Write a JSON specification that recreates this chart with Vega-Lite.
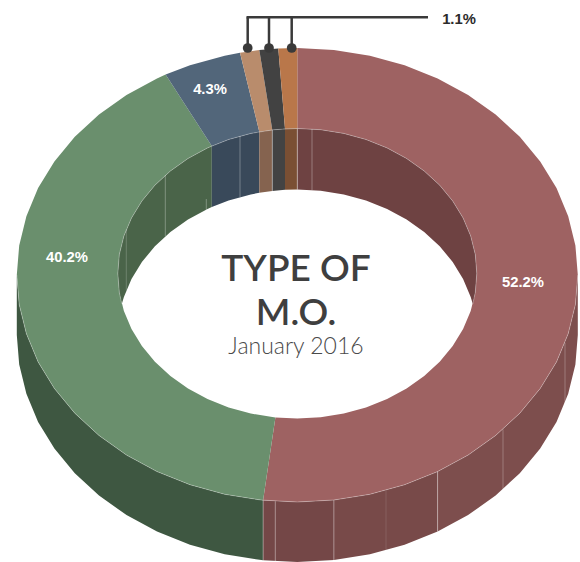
{"$schema":"https://vega.github.io/schema/vega-lite/v6.json","width":580,"height":562,"padding":0,"autosize":"none","background":"white","config":{"view":{"stroke":null}},
"datasets":{
"shapes":[
{"part":"rimRedA","x":-34.2,"y":-225.3},{"part":"rimRedA","x":0,"y":-227},{"part":"rimRedA","x":36.6,"y":-225},{"part":"rimRedA","x":36.6,"y":-285},{"part":"rimRedA","x":0,"y":-287},{"part":"rimRedA","x":-34.2,"y":-285.3},
{"part":"rimRedB","x":36.6,"y":-225},{"part":"rimRedB","x":72.6,"y":-219.3},{"part":"rimRedB","x":107.3,"y":-209.7},{"part":"rimRedB","x":140.3,"y":-196.6},{"part":"rimRedB","x":140.3,"y":-256.6},{"part":"rimRedB","x":107.3,"y":-269.7},{"part":"rimRedB","x":72.6,"y":-279.3},{"part":"rimRedB","x":36.6,"y":-285},
{"part":"rimRedC","x":140.3,"y":-196.6},{"part":"rimRedC","x":170.8,"y":-180.1},{"part":"rimRedC","x":198.3,"y":-160.5},{"part":"rimRedC","x":222.5,"y":-138.2},{"part":"rimRedC","x":242.9,"y":-113.5},{"part":"rimRedC","x":259.2,"y":-86.9},{"part":"rimRedC","x":270.9,"y":-58.7},{"part":"rimRedC","x":278.1,"y":-29.6},{"part":"rimRedC","x":280.5,"y":0},{"part":"rimRedC","x":280.5,"y":-60},{"part":"rimRedC","x":278.1,"y":-89.6},{"part":"rimRedC","x":270.9,"y":-118.7},{"part":"rimRedC","x":259.2,"y":-146.9},{"part":"rimRedC","x":242.9,"y":-173.5},{"part":"rimRedC","x":222.5,"y":-198.2},{"part":"rimRedC","x":198.3,"y":-220.5},{"part":"rimRedC","x":170.8,"y":-240.1},{"part":"rimRedC","x":140.3,"y":-256.6},
{"part":"rimGreen","x":-34.2,"y":-225.3},{"part":"rimGreen","x":-72.6,"y":-219.3},{"part":"rimGreen","x":-107.3,"y":-209.7},{"part":"rimGreen","x":-140.3,"y":-196.6},{"part":"rimGreen","x":-170.8,"y":-180.1},{"part":"rimGreen","x":-198.3,"y":-160.5},{"part":"rimGreen","x":-222.5,"y":-138.2},{"part":"rimGreen","x":-242.9,"y":-113.5},{"part":"rimGreen","x":-259.2,"y":-86.9},{"part":"rimGreen","x":-270.9,"y":-58.7},{"part":"rimGreen","x":-278.1,"y":-29.6},{"part":"rimGreen","x":-280.5,"y":0},{"part":"rimGreen","x":-280.5,"y":-60},{"part":"rimGreen","x":-278.1,"y":-89.6},{"part":"rimGreen","x":-270.9,"y":-118.7},{"part":"rimGreen","x":-259.2,"y":-146.9},{"part":"rimGreen","x":-242.9,"y":-173.5},{"part":"rimGreen","x":-222.5,"y":-198.2},{"part":"rimGreen","x":-198.3,"y":-220.5},{"part":"rimGreen","x":-170.8,"y":-240.1},{"part":"rimGreen","x":-140.3,"y":-256.6},{"part":"rimGreen","x":-107.3,"y":-269.7},{"part":"rimGreen","x":-72.6,"y":-279.3},{"part":"rimGreen","x":-34.2,"y":-285.3},
{"part":"topRed","x":0,"y":227},{"part":"topRed","x":36.6,"y":225},{"part":"topRed","x":72.6,"y":219.3},{"part":"topRed","x":107.3,"y":209.7},{"part":"topRed","x":140.3,"y":196.6},{"part":"topRed","x":170.8,"y":180.1},{"part":"topRed","x":198.3,"y":160.5},{"part":"topRed","x":222.5,"y":138.2},{"part":"topRed","x":242.9,"y":113.5},{"part":"topRed","x":259.2,"y":86.9},{"part":"topRed","x":270.9,"y":58.7},{"part":"topRed","x":278.1,"y":29.6},{"part":"topRed","x":280.5,"y":0},{"part":"topRed","x":278.1,"y":-29.6},{"part":"topRed","x":270.9,"y":-58.7},{"part":"topRed","x":259.2,"y":-86.9},{"part":"topRed","x":242.9,"y":-113.5},{"part":"topRed","x":222.5,"y":-138.2},{"part":"topRed","x":198.3,"y":-160.5},{"part":"topRed","x":170.8,"y":-180.1},{"part":"topRed","x":140.3,"y":-196.6},{"part":"topRed","x":107.3,"y":-209.7},{"part":"topRed","x":72.6,"y":-219.3},{"part":"topRed","x":36.6,"y":-225},{"part":"topRed","x":0,"y":-227},{"part":"topRed","x":-34.2,"y":-225.3},
{"part":"topRed","x":-21.9,"y":-142.4},{"part":"topRed","x":0,"y":-143.5},{"part":"topRed","x":23.4,"y":-142.3},{"part":"topRed","x":46.5,"y":-138.6},{"part":"topRed","x":68.7,"y":-132.5},{"part":"topRed","x":89.8,"y":-124.1},{"part":"topRed","x":109.3,"y":-113.5},{"part":"topRed","x":126.9,"y":-101},{"part":"topRed","x":142.4,"y":-86.8},{"part":"topRed","x":155.4,"y":-71},{"part":"topRed","x":165.8,"y":-54},{"part":"topRed","x":173.4,"y":-36},{"part":"topRed","x":178,"y":-17.4},{"part":"topRed","x":179.5,"y":1.5},{"part":"topRed","x":178,"y":20.4},{"part":"topRed","x":173.4,"y":39},{"part":"topRed","x":165.8,"y":57},{"part":"topRed","x":155.4,"y":74},{"part":"topRed","x":142.4,"y":89.8},{"part":"topRed","x":126.9,"y":104},{"part":"topRed","x":109.3,"y":116.5},{"part":"topRed","x":89.8,"y":127.1},{"part":"topRed","x":68.7,"y":135.5},{"part":"topRed","x":46.5,"y":141.6},{"part":"topRed","x":23.4,"y":145.3},{"part":"topRed","x":0,"y":146.5},
{"part":"topGreen","x":-34.2,"y":-225.3},{"part":"topGreen","x":-72.6,"y":-219.3},{"part":"topGreen","x":-107.3,"y":-209.7},{"part":"topGreen","x":-140.3,"y":-196.6},{"part":"topGreen","x":-170.8,"y":-180.1},{"part":"topGreen","x":-198.3,"y":-160.5},{"part":"topGreen","x":-222.5,"y":-138.2},{"part":"topGreen","x":-242.9,"y":-113.5},{"part":"topGreen","x":-259.2,"y":-86.9},{"part":"topGreen","x":-270.9,"y":-58.7},{"part":"topGreen","x":-278.1,"y":-29.6},{"part":"topGreen","x":-280.5,"y":0},{"part":"topGreen","x":-278.1,"y":29.6},{"part":"topGreen","x":-270.9,"y":58.7},{"part":"topGreen","x":-259.2,"y":86.9},{"part":"topGreen","x":-242.9,"y":113.5},{"part":"topGreen","x":-222.5,"y":138.2},{"part":"topGreen","x":-198.3,"y":160.5},{"part":"topGreen","x":-170.8,"y":180.1},{"part":"topGreen","x":-140.3,"y":196.6},{"part":"topGreen","x":-131.7,"y":200.4},
{"part":"topGreen","x":-85.5,"y":129},{"part":"topGreen","x":-89.8,"y":127.1},{"part":"topGreen","x":-109.3,"y":116.5},{"part":"topGreen","x":-126.9,"y":104},{"part":"topGreen","x":-142.4,"y":89.8},{"part":"topGreen","x":-155.4,"y":74},{"part":"topGreen","x":-165.8,"y":57},{"part":"topGreen","x":-173.4,"y":39},{"part":"topGreen","x":-178,"y":20.4},{"part":"topGreen","x":-179.5,"y":1.5},{"part":"topGreen","x":-178,"y":-17.4},{"part":"topGreen","x":-173.4,"y":-36},{"part":"topGreen","x":-165.8,"y":-54},{"part":"topGreen","x":-155.4,"y":-71},{"part":"topGreen","x":-142.4,"y":-86.8},{"part":"topGreen","x":-126.9,"y":-101},{"part":"topGreen","x":-109.3,"y":-113.5},{"part":"topGreen","x":-89.8,"y":-124.1},{"part":"topGreen","x":-68.7,"y":-132.5},{"part":"topGreen","x":-46.5,"y":-138.6},{"part":"topGreen","x":-21.9,"y":-142.4},
{"part":"topBlue","x":-131.7,"y":200.4},{"part":"topBlue","x":-107.3,"y":209.7},{"part":"topBlue","x":-72.6,"y":219.3},{"part":"topBlue","x":-57.3,"y":222.2},{"part":"topBlue","x":-38,"y":143.2},{"part":"topBlue","x":-46.5,"y":141.6},{"part":"topBlue","x":-68.7,"y":135.5},{"part":"topBlue","x":-85.5,"y":129},
{"part":"topTan","x":-57.3,"y":222.2},{"part":"topTan","x":-38,"y":224.9},{"part":"topTan","x":-25,"y":145.1},{"part":"topTan","x":-38,"y":143.2},
{"part":"topDark","x":-38,"y":224.9},{"part":"topDark","x":-19,"y":226.5},{"part":"topDark","x":-12.3,"y":146.2},{"part":"topDark","x":-25,"y":145.1},
{"part":"topOrange","x":-19,"y":226.5},{"part":"topOrange","x":0,"y":227},{"part":"topOrange","x":0,"y":146.5},{"part":"topOrange","x":-12.3,"y":146.2},
{"part":"wallRed","x":0,"y":146.5},{"part":"wallRed","x":23.4,"y":145.3},{"part":"wallRed","x":46.5,"y":141.6},{"part":"wallRed","x":68.7,"y":135.5},{"part":"wallRed","x":89.8,"y":127.1},{"part":"wallRed","x":109.3,"y":116.5},{"part":"wallRed","x":126.9,"y":104},{"part":"wallRed","x":142.4,"y":89.8},{"part":"wallRed","x":155.4,"y":74},{"part":"wallRed","x":165.8,"y":57},{"part":"wallRed","x":173.4,"y":39},{"part":"wallRed","x":178,"y":20.4},{"part":"wallRed","x":179.5,"y":1.5},{"part":"wallRed","x":178,"y":-17.4},{"part":"wallRed","x":175.5,"y":-29},{"part":"wallRed","x":173.4,"y":-22},{"part":"wallRed","x":165.8,"y":-4},{"part":"wallRed","x":155.4,"y":13},{"part":"wallRed","x":142.4,"y":28.8},{"part":"wallRed","x":126.9,"y":43},{"part":"wallRed","x":109.3,"y":55.5},{"part":"wallRed","x":89.8,"y":66.1},{"part":"wallRed","x":68.7,"y":74.5},{"part":"wallRed","x":46.5,"y":80.6},{"part":"wallRed","x":23.4,"y":84.3},{"part":"wallRed","x":0,"y":85.5},
{"part":"wallGreen","x":-85.5,"y":129},{"part":"wallGreen","x":-89.8,"y":127.1},{"part":"wallGreen","x":-109.3,"y":116.5},{"part":"wallGreen","x":-126.9,"y":104},{"part":"wallGreen","x":-142.4,"y":89.8},{"part":"wallGreen","x":-155.4,"y":74},{"part":"wallGreen","x":-165.8,"y":57},{"part":"wallGreen","x":-173.4,"y":39},{"part":"wallGreen","x":-178,"y":20.4},{"part":"wallGreen","x":-179.5,"y":1.5},{"part":"wallGreen","x":-178,"y":-17.4},{"part":"wallGreen","x":-175.5,"y":-29},{"part":"wallGreen","x":-173.4,"y":-22},{"part":"wallGreen","x":-165.8,"y":-4},{"part":"wallGreen","x":-155.4,"y":13},{"part":"wallGreen","x":-142.4,"y":28.8},{"part":"wallGreen","x":-126.9,"y":43},{"part":"wallGreen","x":-109.3,"y":55.5},{"part":"wallGreen","x":-89.8,"y":66.1},{"part":"wallGreen","x":-85.5,"y":68},
{"part":"wallBlue","x":-38,"y":143.2},{"part":"wallBlue","x":-46.5,"y":141.6},{"part":"wallBlue","x":-68.7,"y":135.5},{"part":"wallBlue","x":-85.5,"y":129},{"part":"wallBlue","x":-85.5,"y":68},{"part":"wallBlue","x":-68.7,"y":74.5},{"part":"wallBlue","x":-46.5,"y":80.6},{"part":"wallBlue","x":-38,"y":82.2},
{"part":"wallTan","x":-25,"y":145.1},{"part":"wallTan","x":-38,"y":143.2},{"part":"wallTan","x":-38,"y":82.2},{"part":"wallTan","x":-25,"y":84.1},
{"part":"wallDark","x":-12.3,"y":146.2},{"part":"wallDark","x":-25,"y":145.1},{"part":"wallDark","x":-25,"y":84.1},{"part":"wallDark","x":-12.3,"y":85.2},
{"part":"wallOrange","x":0,"y":146.5},{"part":"wallOrange","x":-12.3,"y":146.2},{"part":"wallOrange","x":-12.3,"y":85.2},{"part":"wallOrange","x":0,"y":85.5}
],
"edges":[
{"e":"outer","x":-280.5,"y":0},{"e":"outer","x":-278.1,"y":-29.6},{"e":"outer","x":-270.9,"y":-58.7},{"e":"outer","x":-259.2,"y":-86.9},{"e":"outer","x":-242.9,"y":-113.5},{"e":"outer","x":-222.5,"y":-138.2},{"e":"outer","x":-198.3,"y":-160.5},{"e":"outer","x":-170.8,"y":-180.1},{"e":"outer","x":-140.3,"y":-196.6},{"e":"outer","x":-107.3,"y":-209.7},{"e":"outer","x":-72.6,"y":-219.3},{"e":"outer","x":-36.6,"y":-225},{"e":"outer","x":0,"y":-227},{"e":"outer","x":36.6,"y":-225},{"e":"outer","x":72.6,"y":-219.3},{"e":"outer","x":107.3,"y":-209.7},{"e":"outer","x":140.3,"y":-196.6},{"e":"outer","x":170.8,"y":-180.1},{"e":"outer","x":198.3,"y":-160.5},{"e":"outer","x":222.5,"y":-138.2},{"e":"outer","x":242.9,"y":-113.5},{"e":"outer","x":259.2,"y":-86.9},{"e":"outer","x":270.9,"y":-58.7},{"e":"outer","x":278.1,"y":-29.6},{"e":"outer","x":280.5,"y":0},
{"e":"inner","x":-175.5,"y":-29},{"e":"inner","x":-178,"y":-17.4},{"e":"inner","x":-179.5,"y":1.5},{"e":"inner","x":-178,"y":20.4},{"e":"inner","x":-173.4,"y":39},{"e":"inner","x":-165.8,"y":57},{"e":"inner","x":-155.4,"y":74},{"e":"inner","x":-142.4,"y":89.8},{"e":"inner","x":-126.9,"y":104},{"e":"inner","x":-109.3,"y":116.5},{"e":"inner","x":-89.8,"y":127.1},{"e":"inner","x":-68.7,"y":135.5},{"e":"inner","x":-46.5,"y":141.6},{"e":"inner","x":-23.4,"y":145.3},{"e":"inner","x":0,"y":146.5},{"e":"inner","x":23.4,"y":145.3},{"e":"inner","x":46.5,"y":141.6},{"e":"inner","x":68.7,"y":135.5},{"e":"inner","x":89.8,"y":127.1},{"e":"inner","x":109.3,"y":116.5},{"e":"inner","x":126.9,"y":104},{"e":"inner","x":142.4,"y":89.8},{"e":"inner","x":155.4,"y":74},{"e":"inner","x":165.8,"y":57},{"e":"inner","x":173.4,"y":39},{"e":"inner","x":178,"y":20.4},{"e":"inner","x":179.5,"y":1.5},{"e":"inner","x":178,"y":-17.4},{"e":"inner","x":175.5,"y":-29}
],
"seams":[
{"x":-34.2,"y":-225.3,"y2":-285.3,"k":0.35},{"x":-22,"y":-226.3,"y2":-286.3,"k":0.4},{"x":36.6,"y":-225,"y2":-285,"k":0.35},{"x":88.7,"y":-215.4,"y2":-275.4,"k":0.12},{"x":140.3,"y":-196.6,"y2":-256.6,"k":0.35},{"x":205.7,"y":-154.3,"y2":-214.3,"k":0.25},{"x":267.7,"y":-67.8,"y2":-127.8,"k":0.25},
{"x":0,"y":146.5,"y2":85.5,"k":0.4},{"x":14.7,"y":146,"y2":85,"k":0.3},{"x":-25,"y":145.1,"y2":84.1,"k":0.35},{"x":-57.3,"y":138.9,"y2":77.9,"k":0.3},{"x":-132,"y":99.8,"y2":38.8,"k":0.3},{"x":-171,"y":45.6,"y2":-15.4,"k":0.2},{"x":-91,"y":76,"y2":64,"k":0.3}
],
"leaders":[
{"x":-49.6,"y":257.7,"y2":227},{"x":-28.3,"y":257.7,"y2":227},{"x":-5.6,"y":257.7,"y2":227}
],
"dots":[{"x":-49.6,"y":227},{"x":-28.3,"y":227},{"x":-5.6,"y":227}],
"slices":[
{"label":"52.2%","x":225.7,"y":-12,"c":"w"},{"label":"40.2%","x":-230.3,"y":13,"c":"w"},{"label":"4.3%","x":-87.3,"y":181,"c":"w"},{"label":"1.1%","x":161.7,"y":251,"c":"k"}
]},
"encoding":{"x":{"field":"x","type":"quantitative","scale":{"domain":[-297.3,282.7],"nice":false,"zero":false},"axis":null},"y":{"field":"y","type":"quantitative","scale":{"domain":[-287,275],"nice":false,"zero":false},"axis":null}},
"layer":[
{"data":{"name":"shapes"},"mark":{"type":"line","interpolate":"linear-closed","strokeWidth":0},"encoding":{"order":{"value":null},"fill":{"field":"part","type":"nominal","legend":null,"scale":{"domain":["rimRedA","rimRedB","rimRedC","rimGreen","topRed","topGreen","topBlue","topTan","topDark","topOrange","wallRed","wallGreen","wallBlue","wallTan","wallDark","wallOrange"],"range":["#744747","#784a49","#7d4e4d","#3e5741","#9e6262","#6a8f6d","#52667a","#b98c6c","#424242","#b9774a","#6e4242","#4a6449","#39495a","#85634f","#434343","#7a4f33"]}}}},
{"data":{"name":"edges"},"mark":{"type":"line","color":"#ffffff","strokeWidth":0.8,"opacity":0.35},"encoding":{"order":{"value":null},"detail":{"field":"e"}}},
{"data":{"name":"seams"},"mark":{"type":"rule","color":"#ffffff","strokeWidth":1},"encoding":{"y2":{"field":"y2"},"opacity":{"field":"k","type":"quantitative","scale":null}}},
{"data":{"values":[{"x":-50.8,"x2":130.7,"y":257.7}]},"mark":{"type":"rule","color":"#3a3a3a","strokeWidth":2.5},"encoding":{"x2":{"field":"x2"}}},
{"data":{"name":"leaders"},"mark":{"type":"rule","color":"#3a3a3a","strokeWidth":2.5},"encoding":{"y2":{"field":"y2"}}},
{"data":{"name":"dots"},"mark":{"type":"circle","color":"#3a3a3a","opacity":1,"size":95}},
{"data":{"name":"slices"},"mark":{"type":"text","font":"Liberation Sans","fontWeight":"bold","fontSize":14.8,"align":"center","baseline":"alphabetic"},"encoding":{"text":{"field":"label"},"color":{"field":"c","type":"nominal","legend":null,"scale":{"domain":["w","k"],"range":["#ffffff","#2b2b2b"]}}}},
{"data":{"values":[{"t":"TYPE OF","x":-1.3,"y":-6},{"t":"M.O.","x":-1.3,"y":-50}]},"mark":{"type":"text","font":"Lato","fontWeight":600,"fontSize":37,"align":"center","baseline":"alphabetic","color":"#3f3f3f"},"encoding":{"text":{"field":"t"}}},
{"data":{"values":[{"t":"January 2016","x":-1.3,"y":-79}]},"mark":{"type":"text","font":"Lato","fontWeight":300,"fontSize":23,"align":"center","baseline":"alphabetic","color":"#4a4a4a"},"encoding":{"text":{"field":"t"}}}
]}
